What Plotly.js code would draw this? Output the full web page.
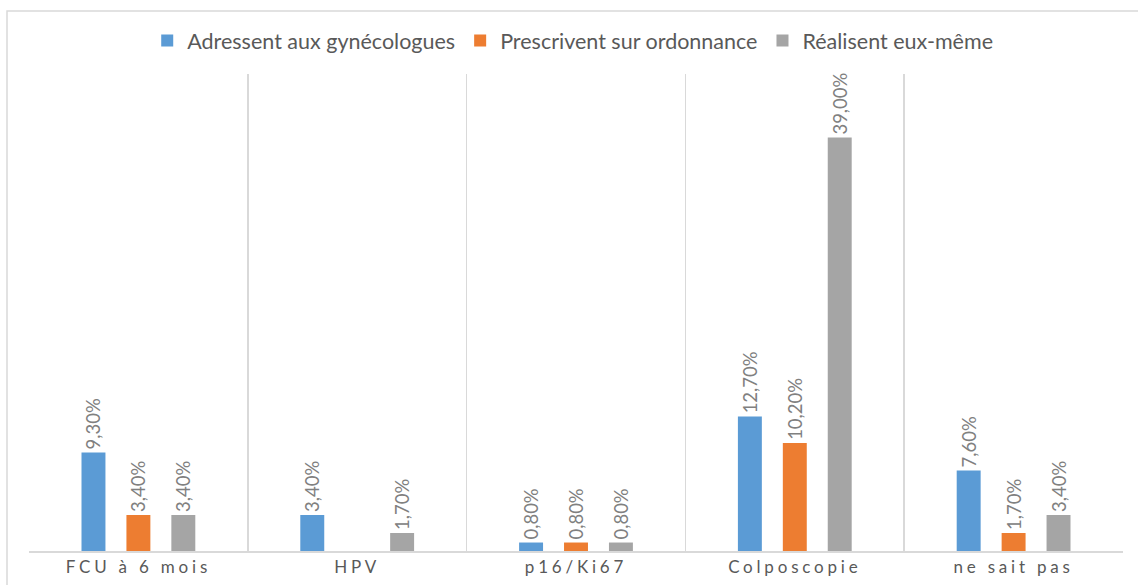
<!DOCTYPE html>
<html>
<head>
<meta charset="utf-8">
<script src="https://cdn.plot.ly/plotly-3.0.1.min.js"></script>
<style>
html,body{margin:0;padding:0;background:#fff;}
#chart{width:1138px;height:585px;}
.xtick text{letter-spacing:3.8px;}
</style>
</head>
<body>
<div id="chart"></div>
<script>
const categories = ["FCU à 6 mois", "HPV", "p16/Ki67", "Colposcopie", "ne sait pas"];
const seriesNames = ["Adressent aux gynécologues", "Prescrivent sur ordonnance", "Réalisent eux-même"];
const adressent = [9.3, 3.4, 0.8, 12.7, 7.6];
const prescrivent = [3.4, null, 0.8, 10.2, 1.7];
const realisent = [3.4, 1.7, 0.8, 39.0, 3.4];
const colors = ["#5b9bd5", "#ed7d31", "#a5a5a5"];

const FONT = "Lato, 'Open Sans', sans-serif";
const values = [adressent, prescrivent, realisent];
const traces = values.map((v, i) => ({
  type: "bar",
  name: seriesNames[i],
  x: categories,
  y: v,
  marker: {color: colors[i]},
  texttemplate: "%{y:.2f}%",
  textposition: "outside",
  textangle: -90,
  constraintext: "none",
  cliponaxis: false,
  textfont: {family: FONT, size: 18.5, color: "#808080"},
  hoverinfo: "x+y"
}));

const layout = {
  width: 1138,
  height: 585,
  separators: ", ",
  margin: {l: 29, r: 15, t: 74, b: 34, autoexpand: false},
  paper_bgcolor: "#ffffff",
  plot_bgcolor: "#ffffff",
  font: {family: FONT, color: "#595959"},
  barmode: "group",
  bargap: 0.384,
  bargroupgap: 0.467,
  showlegend: true,
  legend: {
    orientation: "h",
    x: 0.497, xanchor: "center",
    y: 1.07, yanchor: "middle",
    bgcolor: "rgba(0,0,0,0)",
    font: {family: FONT, size: 21.5, color: "#595959"},
    itemwidth: 20,
    traceorder: "normal"
  },
  xaxis: {
    type: "category",
    tickson: "boundaries",
    showgrid: true,
    gridcolor: "#d9d9d9",
    gridwidth: 1.5,
    showline: true,
    linecolor: "#d9d9d9",
    linewidth: 1.5,
    ticks: "",
    tickfont: {family: FONT, size: 17, color: "#595959"},
    mirror: false,
    fixedrange: true
  },
  yaxis: {
    range: [0, 45],
    showgrid: false,
    zeroline: false,
    showticklabels: false,
    showline: false,
    fixedrange: true
  },
  shapes: [{
    type: "rect",
    xref: "paper", yref: "paper",
    x0: -0.0201, x1: 1.2,
    y0: -0.2, y1: 1.132,
    line: {color: "#d9d9d9", width: 1.5},
    fillcolor: "rgba(0,0,0,0)",
    layer: "below"
  }]
};

Plotly.newPlot("chart", traces, layout, {displayModeBar: false, staticPlot: true});
</script>
</body>
</html>
